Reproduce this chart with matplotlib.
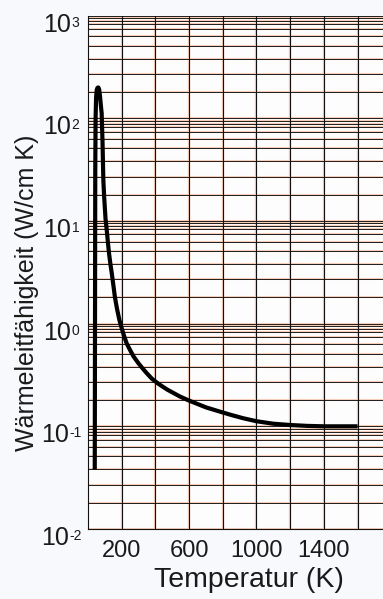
import numpy as np
import matplotlib
matplotlib.use('Agg')
import matplotlib.pyplot as plt
import matplotlib.transforms as mtransforms
from matplotlib.ticker import FixedLocator, NullFormatter

plt.rcParams['font.family'] = ['Liberation Sans', 'DejaVu Sans']

# Wärmeleitfähigkeit über der Temperatur
temperatur = [40, 41, 42, 43, 45, 48, 52, 56, 61, 66, 71, 76, 81, 86, 91,
              96, 104, 111, 118, 125, 133, 141, 150, 160, 172, 186, 200, 215,
              230, 249, 270, 300, 325, 348, 380, 420, 470, 546, 600, 700, 783,
              850, 920, 1001, 1100, 1200, 1300, 1400, 1500, 1600]
leitfaehigkeit = [0.038, 0.3, 3.0, 30, 100, 160, 190, 198, 200, 192, 165, 135,
                  112, 60, 25, 17, 10.5, 8.2, 6.2, 4.8, 3.8, 3.1, 2.4, 1.8,
                  1.4, 1.09, 0.9, 0.75, 0.64, 0.556, 0.48, 0.41, 0.365, 0.33,
                  0.29, 0.258, 0.228, 0.195, 0.178, 0.153, 0.139, 0.129, 0.12,
                  0.112, 0.106, 0.103, 0.101, 0.1, 0.1, 0.1]

x_ticks = [200, 600, 1000, 1400]
x_grid = [200, 400, 600, 800, 1000, 1200, 1400, 1600]
y_exponents = [-2, -1, 0, 1, 2, 3]
# Zwischenlinien pro Dekade (Millimeterpapier)
y_subs = [1.8, 2.7, 3.8, 5.1, 6.3, 7.4, 8.3, 8.9, 9.5]

bg = '#f8f9fc'
fig = plt.figure(figsize=(3.83, 5.99), dpi=100, facecolor=bg)
ax = fig.add_axes([0.2298, 0.1169, 0.7702, 0.8569])
ax.set_facecolor('#fdfdfe')
ax.set_yscale('log')
ax.set_xlim(0, 1751)
ax.set_ylim(1e-2, 1e3)

# Gitter: schwarze Linie mit orangem Rand
y_lines = [10.0 ** e for e in y_exponents]
for e in range(-2, 3):
    y_lines += [s * 10.0 ** e for s in y_subs]
for y in y_lines:
    ax.axhline(y, color='#f7cdb8', lw=1.5, zorder=1)
    ax.axhline(y, color='#111111', lw=0.65, zorder=2)
for x in x_grid:
    ax.axvline(x, color='#f7cdb8', lw=1.7, zorder=1)
    ax.axvline(x, color='#111111', lw=0.8, zorder=2)

ax.plot(temperatur, leitfaehigkeit, color='black', lw=3.0,
        solid_capstyle='butt', solid_joinstyle='round', zorder=5)

# y-Beschriftung: "10" mit kleinem Exponenten
ax.yaxis.set_major_locator(FixedLocator([10.0 ** e for e in y_exponents]))
ax.yaxis.set_minor_locator(FixedLocator([]))
ax.yaxis.set_major_formatter(NullFormatter())
ax.yaxis.set_minor_formatter(NullFormatter())
lab_trans = mtransforms.blended_transform_factory(fig.transFigure, ax.transData)
lab_trans = lab_trans + mtransforms.ScaledTranslation(0, -9 / 100, fig.dpi_scale_trans)
for e in y_exponents:
    x0 = 41 / 383 if e < 0 else 43 / 383
    ten = ax.text(x0, 10.0 ** e, '10', transform=lab_trans, ha='left',
                  va='center', fontsize=18, color='#1a1a1a', clip_on=False)
    ax.annotate('%d' % e if e >= 0 else '-%d' % (-e), xy=(1, 1), xycoords=ten,
                xytext=(0.6, -2.2), textcoords='offset points', ha='left',
                va='top', fontsize=10, color='#1a1a1a', annotation_clip=False)

ax.set_xticks(x_ticks)
ax.tick_params(axis='both', length=0, colors='#1a1a1a')
ax.tick_params(axis='x', pad=8, labelsize=17)

for side in ['top', 'right']:
    ax.spines[side].set_visible(False)
for side in ['left', 'bottom']:
    ax.spines[side].set_color('#111111')
    ax.spines[side].set_linewidth(0.8)

ax.set_xlabel('Temperatur (K)', fontsize=20.5, color='#1a1a1a')
ax.xaxis.set_label_coords(0.545, -0.099)
ax.set_ylabel('Wärmeleitfähigkeit (W/cm K)', fontsize=18, color='#1a1a1a')
ax.yaxis.set_label_coords(-0.207, 0.46)
ax.xaxis.label.set_verticalalignment('center')
ax.yaxis.label.set_verticalalignment('center')

fig.savefig('out.png', dpi=100, facecolor=bg)
